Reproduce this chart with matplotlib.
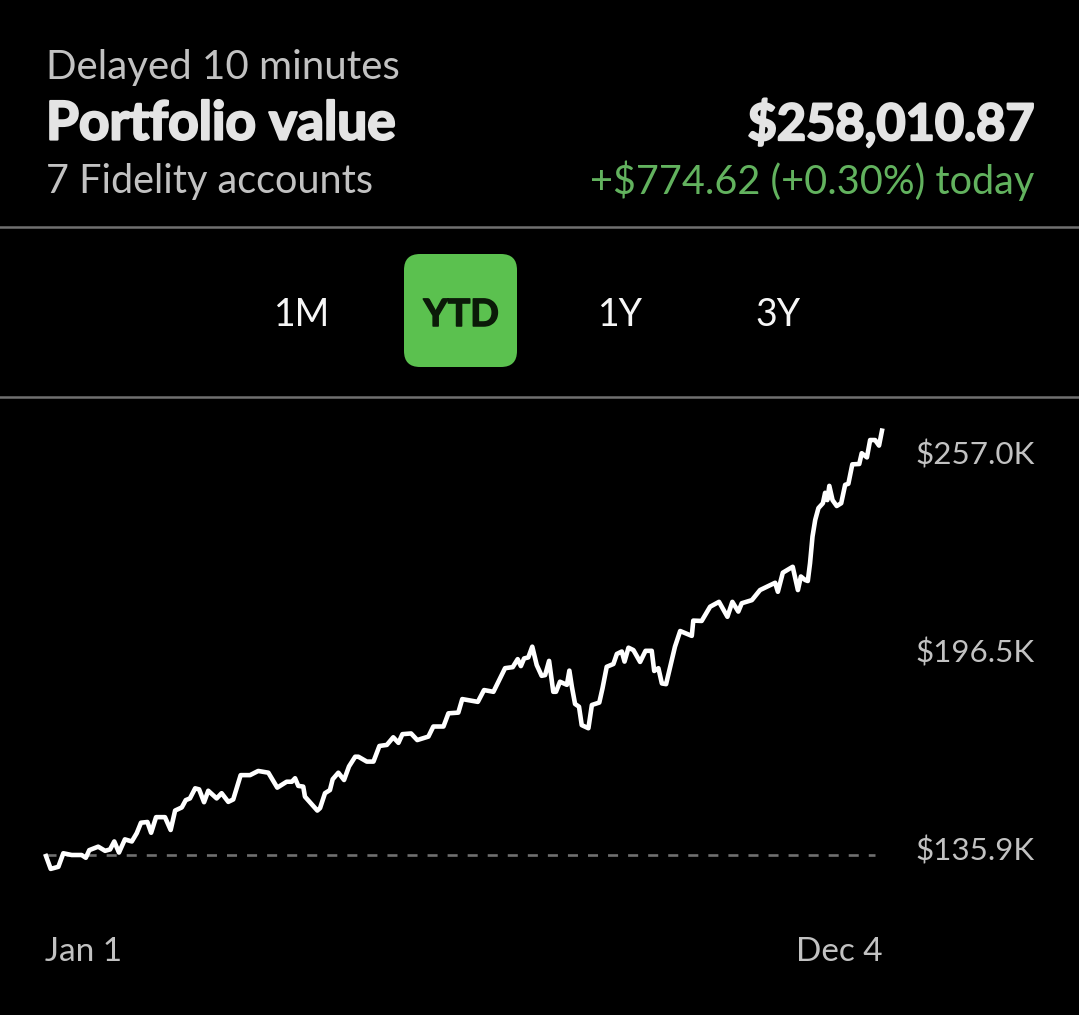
import matplotlib
matplotlib.use("Agg")
import matplotlib.pyplot as plt
import matplotlib.patheffects as pe
from matplotlib.patches import FancyBboxPatch

# dias desde el 1 de enero y valor de la cartera en miles de dolares
dias = [0, 1.9, 5.0, 7.0, 10.4, 14.4, 16.1, 17.5, 21.1, 23.9, 25.9, 27.6, 29.5, 31.9, 34.7, 36.7, 38.4, 41.0,
        42.5, 44.5, 48.1, 50.4, 52.2, 54.9, 56.5, 58.2, 60.3, 61.9, 63.9, 65.6, 69.0, 71.0, 73.7, 75.7, 78.7,
        82.5, 85.8, 89.9, 93.5, 97.3, 99.4, 100.7, 102.0, 104.0, 104.7, 109.7, 110.8, 112.8, 114.8, 115.9,
        118.2, 120.5, 122.5, 125.0, 126.3, 129.7, 132.4, 134.8, 137.8, 140.4, 142.5, 144.1, 147.6, 150.1,
        154.6, 156.6, 160.7, 162.7, 166.7, 168.3, 174.6, 177.1, 180.9, 185.6, 188.7, 190.7, 192.0, 193.3,
        195.0, 196.6, 198.4, 200.4, 201.8, 203.4, 205.1, 206.2, 207.8, 210.6, 211.6, 212.6, 213.9, 215.5,
        216.6, 219.3, 220.7, 223.7, 225.0, 226.7, 229.4, 230.8, 232.8, 233.9, 235.5, 237.5, 240.2, 242.4,
        244.9, 245.9, 247.6, 249.0, 250.7, 254.3, 256.4, 261.1, 261.7, 265.1, 268.5, 272.1, 275.5, 277.5,
        279.9, 281.3, 285.4, 288.7, 294.8, 295.9, 297.9, 301.9, 304.0, 305.2, 306.9, 308.0, 308.9, 309.9,
        311.0, 312.3, 314.1, 315.0, 315.9, 316.7, 318.0, 319.7, 321.5, 323.1, 324.4, 326.0, 328.8, 329.8,
        331.9, 333.2, 335.2, 336.8, 338]
valores = [135.6, 131.9, 132.5, 136.4, 135.9, 135.9, 135.1, 137.3, 138.3, 137.1, 137.5, 139.8, 136.6, 140.4,
           139.8, 142.2, 145.2, 145.4, 142.3, 146.8, 146.8, 143.1, 148.7, 149.6, 151.7, 152.2, 155.1, 154.8,
           151.1, 154.4, 152.2, 153.7, 151.2, 151.9, 158.9, 158.9, 160.1, 159.6, 155.3, 157.0, 157.0, 158.0,
           155.8, 155.6, 152.7, 148.7, 149.4, 153.7, 154.6, 157.7, 159.6, 157.5, 161.4, 164.2, 164.2, 162.8,
           162.8, 167.3, 167.6, 169.8, 168.2, 170.7, 170.9, 169.0, 170.0, 172.9, 172.9, 176.7, 176.9, 180.8,
           180.0, 183.4, 182.9, 189.7, 190.0, 192.3, 190.3, 192.5, 192.8, 195.9, 190.6, 187.5, 187.7, 191.8,
           182.9, 182.9, 185.8, 184.9, 189.0, 184.4, 179.4, 178.6, 173.3, 172.4, 179.1, 179.8, 183.9, 190.1,
           190.9, 193.8, 194.5, 191.6, 195.6, 194.9, 191.5, 194.7, 194.7, 188.9, 189.7, 185.3, 185.1, 195.9,
           200.4, 199.0, 203.4, 203.3, 207.4, 208.8, 204.5, 208.8, 206.0, 208.4, 209.3, 212.2, 214.3, 211.7,
           217.2, 218.9, 212.2, 216.1, 215.1, 214.8, 219.9, 227.6, 232.4, 235.8, 237.2, 240.2, 238.1, 242.2,
           238.1, 236.4, 237.2, 242.5, 242.8, 248.4, 248.5, 251.6, 250.4, 255.4, 255.4, 253.8, 258.1]
valor_inicial = 135.9
etiquetas_y = ["$257.0K", "$196.5K", "$135.9K"]
etiquetas_x = ["Jan 1", "Dec 4"]
periodos = ["1M", "YTD", "1Y", "3Y"]

ANCHO, ALTO = 1079, 1015
VERDE = "#5bc14f"
VERDE_TEXTO = "#62b25e"
GRIS = "#c2c2c2"
CLARO = "#e4e4e4"
OSCURO = "#0b1a08"
plt.rcParams["font.family"] = ["Lato", "DejaVu Sans"]

fig = plt.figure(figsize=(ANCHO / 100, ALTO / 100), dpi=100, facecolor="black")

# capa de fondo en pixeles para textos y botones
fondo = fig.add_axes([0, 0, 1, 1])
fondo.set_xlim(0, ANCHO)
fondo.set_ylim(ALTO, 0)
fondo.axis("off")

# Lato no trae peso mas grueso, se engorda con un trazo del mismo color
grueso_claro = [pe.withStroke(linewidth=1.6, foreground=CLARO)]
grueso_oscuro = [pe.withStroke(linewidth=1.1, foreground=OSCURO)]

fondo.text(46, 67, "Delayed 10 minutes", color=GRIS, fontsize=29, va="center")
fondo.text(46, 124, "Portfolio value", color=CLARO, fontsize=38.3, fontweight="bold", va="center",
           path_effects=grueso_claro)
fondo.text(46, 181, "7 Fidelity accounts", color=GRIS, fontsize=28.5, va="center")
fondo.text(1034, 124, "$258,010.87", color=CLARO, fontsize=36.3, fontweight="bold", va="center", ha="right",
           path_effects=grueso_claro)
fondo.text(1034, 181, "+$774.62 (+0.30%) today", color=VERDE_TEXTO, fontsize=28.5, va="center", ha="right")

fondo.plot([0, ANCHO], [227, 227], color="#707070", lw=1.8)
fondo.plot([0, ANCHO], [397, 397], color="#707070", lw=1.8)

fondo.add_patch(FancyBboxPatch((418, 268), 85, 85, boxstyle="round,pad=14,rounding_size=16", fc=VERDE, ec="none"))

for nombre, x in zip(periodos, [302, 461, 620, 778]):
    if nombre == "YTD":
        fondo.text(x, 315, nombre, color=OSCURO, fontsize=27, fontweight="bold", ha="center", va="center",
                   path_effects=grueso_oscuro)
    else:
        fondo.text(x, 315, nombre, color="#f6f6f6", fontsize=27, ha="center", va="center")

for texto, y in zip(etiquetas_y, [455, 653, 851]):
    fondo.text(1035, y, texto, color=GRIS, fontsize=22.6, ha="right", va="center")

fondo.text(45, 952, etiquetas_x[0], color=GRIS, fontsize=24, va="center")
fondo.text(883, 952, etiquetas_x[1], color=GRIS, fontsize=24, va="center", ha="right")

# grafica de la cartera
ax = fig.add_axes([46 / ANCHO, 1 - 855 / ALTO, (882 - 46) / ANCHO, (855 - 431) / ALTO])
ax.set_xlim(0, 338)
ax.set_ylim(135.9, 258.0)
ax.axis("off")
ax.plot([0, 335], [valor_inicial, valor_inicial], color="#707070", lw=1.9, dashes=(3.8, 3.8), clip_on=False)
ax.plot(dias, valores, color="white", lw=3.3, clip_on=False, solid_joinstyle="round")

fig.savefig("out.png", dpi=100, facecolor="black")
